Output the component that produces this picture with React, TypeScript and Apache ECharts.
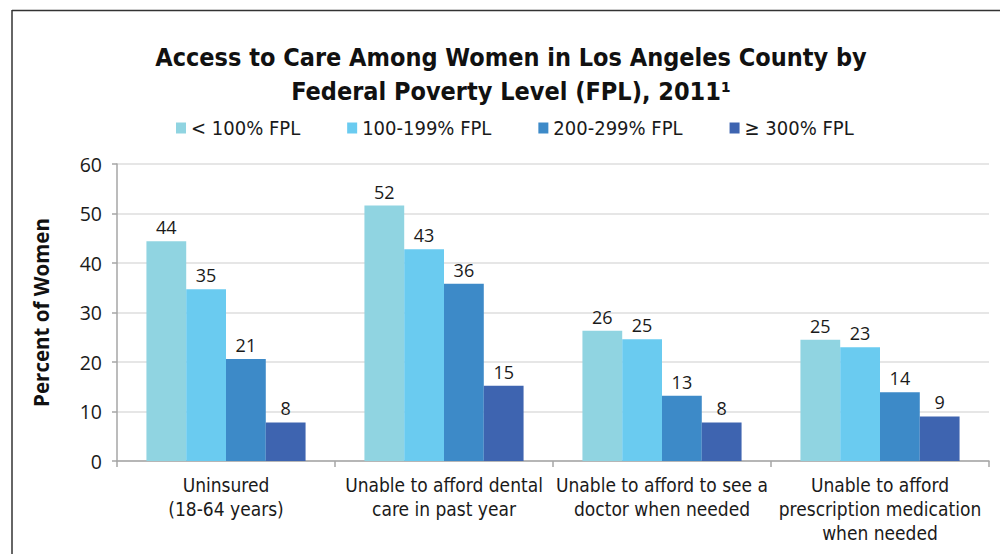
import React, { useEffect, useRef } from "react";
import * as echarts from "echarts";

const categories = [
  "Uninsured\n(18-64 years)",
  "Unable to afford dental\ncare in past year",
  "Unable to afford to see a\ndoctor when needed",
  "Unable to afford\nprescription medication\nwhen needed",
];
const seriesNames = ["< 100% FPL", "100-199% FPL", "200-299% FPL", "≥ 300% FPL"];
const below100 = [44.4, 51.6, 26.3, 24.5];
const fpl100to199 = [34.7, 42.8, 24.6, 23.0];
const fpl200to299 = [20.6, 35.8, 13.2, 13.9];
const above300 = [7.8, 15.2, 7.8, 9.0];
const labels = [
  [44, 52, 26, 25],
  [35, 43, 25, 23],
  [21, 36, 13, 14],
  [8, 15, 8, 9],
];
const yTicks = { min: 0, max: 60, interval: 10 };
const colors = ["#90d4e1", "#6acbf0", "#3d8ac8", "#3e64b0"];

const condensed = "'Liberation Sans Narrow', 'DejaVu Sans Condensed', 'Open Sans', sans-serif";
const sans = "'Open Sans', 'Noto Sans', sans-serif";

export default function App() {
  const ref = useRef<HTMLDivElement>(null);
  useEffect(() => {
    if (!ref.current) return;
    const chart = echarts.init(ref.current, null, { renderer: "svg" });
    const values = [below100, fpl100to199, fpl200to299, above300];
    chart.setOption({
      animation: false,
      backgroundColor: "#ffffff",
      title: {
        text: "Access to Care Among Women in Los Angeles County by\nFederal Poverty Level (FPL), 2011¹",
        left: 511,
        top: 40,
        padding: 0,
        textAlign: "center",
        textStyle: {
          fontFamily: condensed,
          fontWeight: "bold",
          fontSize: 25,
          lineHeight: 34,
          color: "#111",
        },
      },
      legend: {
        data: seriesNames,
        left: 176,
        top: 118,
        padding: 0,
        itemWidth: 10,
        itemHeight: 11,
        itemGap: 47,
        icon: "rect",
        textStyle: { fontFamily: condensed, fontSize: 20, color: "#1a1a1a" },
      },
      graphic: [
        { type: "line", shape: { x1: 12, y1: 10.5, x2: 1000, y2: 10.5 }, style: { stroke: "#333", lineWidth: 1.5 } },
        { type: "line", shape: { x1: 12, y1: 10, x2: 12, y2: 554 }, style: { stroke: "#333", lineWidth: 1.5 } },
      ],
      grid: { left: 117, right: 11, top: 164, bottom: 93 },
      xAxis: {
        type: "category",
        data: categories,
        axisLine: { lineStyle: { color: "#a6a6a6", width: 1.5 } },
        axisTick: { show: true, length: 6, lineStyle: { color: "#a6a6a6", width: 1.5 } },
        axisLabel: {
          interval: 0,
          fontFamily: condensed,
          fontSize: 19,
          lineHeight: 24,
          color: "#1a1a1a",
          margin: 12,
        },
      },
      yAxis: {
        type: "value",
        min: yTicks.min,
        max: yTicks.max,
        interval: yTicks.interval,
        name: "Percent of Women",
        nameLocation: "middle",
        nameRotate: 90,
        nameGap: 66,
        nameTextStyle: { fontFamily: sans, fontWeight: "bold", fontSize: 20.5, color: "#111" },
        axisLine: { show: true, lineStyle: { color: "#a6a6a6", width: 1.5 } },
        axisTick: { show: true, length: 5, lineStyle: { color: "#a6a6a6", width: 1.5 } },
        axisLabel: { fontFamily: sans, fontSize: 19.5, color: "#1a1a1a", margin: 15 },
        splitLine: { lineStyle: { color: "#dedede", width: 1.5 } },
      },
      series: seriesNames.map((name, i) => ({
        name,
        type: "bar",
        data: values[i],
        barGap: "0%",
        barCategoryGap: "27%",
        itemStyle: { color: colors[i] },
        label: {
          show: true,
          position: "top",
          distance: 5,
          fontFamily: sans,
          fontSize: 18,
          color: "#1a1a1a",
          formatter: (p: any) => String(labels[i][p.dataIndex]),
        },
      })),
    });
    return () => chart.dispose();
  }, []);
  return (
    <div
      ref={ref}
      style={{ position: "fixed", left: 0, top: 0, width: 1000, height: 554 }}
    />
  );
}
